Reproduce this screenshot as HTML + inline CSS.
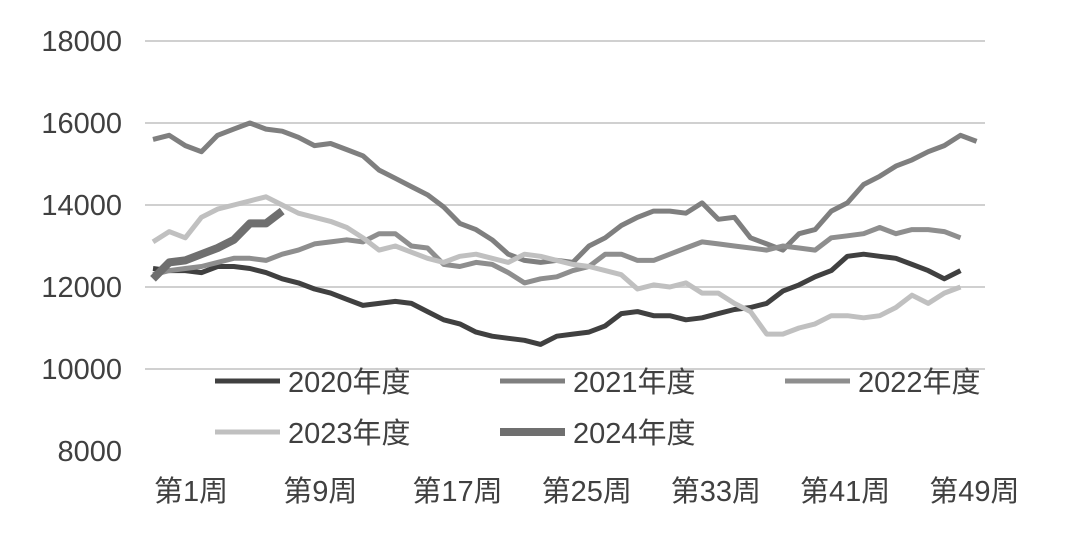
<!DOCTYPE html>
<html><head><meta charset="utf-8"><style>
body{margin:0;background:#fff;}
svg text{font-family:"Liberation Sans","Noto Sans CJK SC",sans-serif;fill:#404040;}
</style></head><body>
<svg id="chart" width="1080" height="535" xmlns="http://www.w3.org/2000/svg"></svg>
<script>
const weeks = Array.from({length:52},(_,i)=>i+1);
const xTickLabels = ["第1周","第9周","第17周","第25周","第33周","第41周","第49周"];
const xTickWeeks = [1,9,17,25,33,41,49];
const yTicks = [8000,10000,12000,14000,16000,18000];
const s2020 = [12450,12400,12400,12350,12500,12500,12450,12350,12200,12100,11950,11850,11700,11550,11600,11650,11600,11400,11200,11100,10900,10800,10750,10700,10600,10800,10850,10900,11050,11350,11400,11300,11300,11200,11250,11350,11450,11500,11600,11900,12050,12250,12400,12750,12800,12750,12700,12550,12400,12200,12400];
const s2021 = [15600,15700,15450,15300,15700,15850,16000,15850,15800,15650,15450,15500,15350,15200,14850,14650,14450,14250,13950,13550,13400,13150,12800,12650,12600,12650,12600,13000,13200,13500,13700,13850,13850,13800,14050,13650,13700,13200,13050,12900,13300,13400,13850,14050,14500,14700,14950,15100,15300,15450,15700,15550,15600].slice(0,52);
const s2022 = [12300,12400,12450,12500,12600,12700,12700,12650,12800,12900,13050,13100,13150,13100,13300,13300,13000,12950,12550,12500,12600,12550,12350,12100,12200,12250,12400,12500,12800,12800,12650,12650,12800,12950,13100,13050,13000,12950,12900,13000,12950,12900,13200,13250,13300,13450,13300,13400,13400,13350,13200];
const s2023 = [13100,13350,13200,13700,13900,14000,14100,14200,14000,13800,13700,13600,13450,13200,12900,13000,12850,12700,12600,12750,12800,12700,12600,12800,12750,12650,12550,12500,12400,12300,11950,12050,12000,12100,11850,11850,11600,11400,10850,10850,11000,11100,11300,11300,11250,11300,11500,11800,11600,11850,12000];
const s2024 = [12200,12600,12650,12800,12950,13150,13550,13550,13850];
const series = [
 {name:"2020年度",data:s2020,color:"#404040",w:5},
 {name:"2021年度",data:s2021,color:"#7f7f7f",w:5},
 {name:"2022年度",data:s2022,color:"#8e8e8e",w:5},
 {name:"2023年度",data:s2023,color:"#c0c0c0",w:5},
 {name:"2024年度",data:s2024,color:"#6f6f6f",w:8}
];
const svg=document.getElementById('chart');
const NS="http://www.w3.org/2000/svg";
const x=w=>153+(w-1)*16.15;
const y=v=>451-(v-8000)*0.041;
function mk(t,attrs){const e=document.createElementNS(NS,t);for(const k in attrs)e.setAttribute(k,attrs[k]);svg.appendChild(e);return e;}
yTicks.forEach(v=>{
 if(v>8000){const g=mk('line',{x1:145,x2:985,y1:y(v),y2:y(v),stroke:'#d0d0d0','stroke-width':2});
 
 }
 const t=mk('text',{x:122,y:y(v)+10,'text-anchor':'end','font-size':29});
 t.textContent=v;
 
 
});
xTickLabels.forEach((l,i)=>{
 const t=mk('text',{x:x(xTickWeeks[i])+1,y:501,'font-size':29});
 t.textContent=l;
 
 
});
series.forEach(s=>{
 const pts=s.data.map((v,i)=>x(weeks[i]).toFixed(1)+','+y(v).toFixed(1)).join(' ');
 const p=mk('polyline',{points:pts,fill:'none',stroke:s.color,'stroke-width':s.w,'stroke-linejoin':'round'});
 
 
});
const legPos=[[215,381],[500,381],[785,381],[215,432],[500,432]];
series.forEach((s,i)=>{
 const [lx,ly]=legPos[i];
 const l=mk('line',{x1:lx,x2:lx+65,y1:ly,y2:ly,stroke:s.color,'stroke-width':s.w});
 
 
 const t=mk('text',{x:lx+73,y:ly+11,'font-size':29});
 t.textContent=s.name;
 
 
});
</script>
</body></html>
